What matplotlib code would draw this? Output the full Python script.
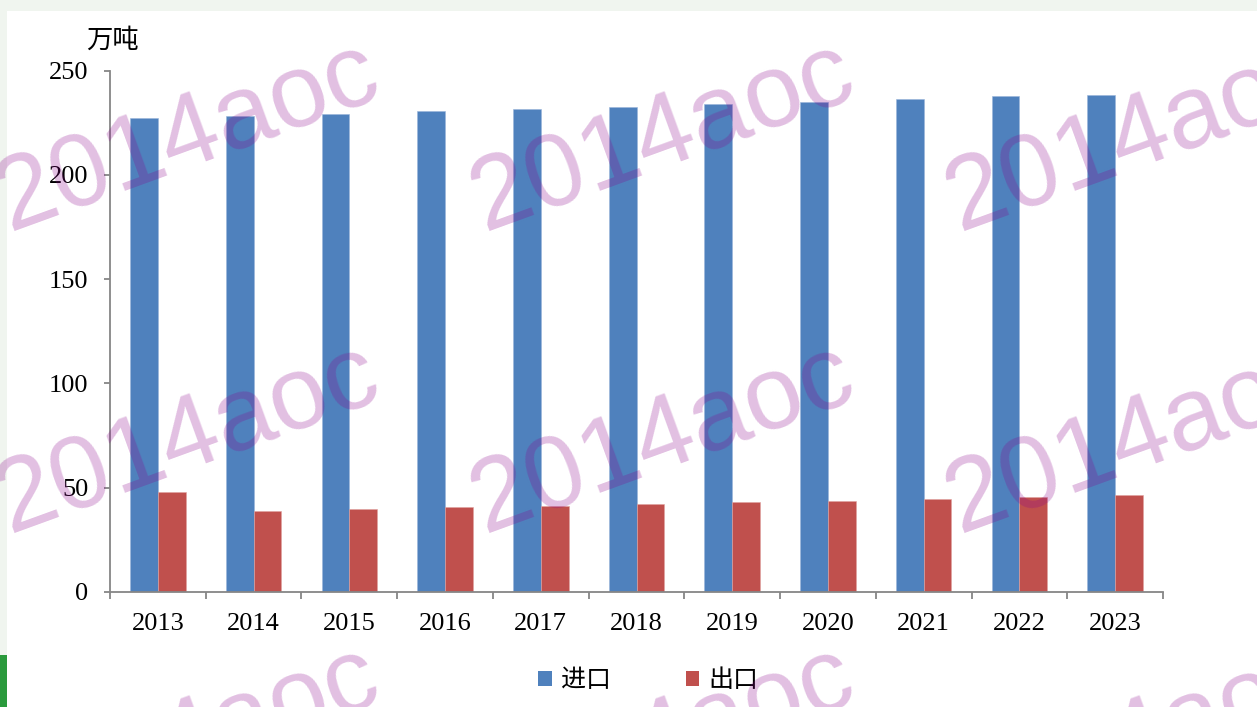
import matplotlib
matplotlib.use("Agg")
import matplotlib.pyplot as plt
from matplotlib.patches import Rectangle, Patch
import numpy as np

# ---- data ----
years = ["2013", "2014", "2015", "2016", "2017", "2018", "2019", "2020", "2021", "2022", "2023"]
imports = [227.1, 228.1, 229.4, 230.7, 231.8, 232.7, 234.0, 235.1, 236.6, 237.9, 238.5]
exports = [47.8, 38.5, 39.7, 40.5, 41.3, 42.1, 43.0, 43.7, 44.5, 45.6, 46.4]
series_names = ["进口", "出口"]
unit_label = "万吨"
yticks = [0, 50, 100, 150, 200, 250]
watermark = "2014aoc"

W, H = 1257, 707
fig = plt.figure(figsize=(W / 100, H / 100), dpi=100)
fig.patch.set_facecolor("#f0f5ef")

# white page area and green corner strip
fig.patches.append(Rectangle((7 / W, 0), 1 - 7 / W, (H - 10.5) / H,
                             transform=fig.transFigure, facecolor="white",
                             edgecolor="none", zorder=-5))
fig.patches.append(Rectangle((0, 0), 7 / W, 52 / H, transform=fig.transFigure,
                             facecolor="#2a9a3c", edgecolor="none", zorder=-5))

serif = ["Liberation Serif", "Noto Sans CJK SC"]
cjk = ["Noto Sans CJK SC", "DejaVu Sans"]

ax = fig.add_axes([110 / W, 115.3 / H, (1163 - 110) / W, 521 / H])
ax.set_facecolor("none")

x = np.arange(len(years))
bw = 0.29
blue = "#4f81bd"
red = "#c0504d"
ax.bar(x - bw / 2, imports, width=bw, color=blue, edgecolor="#9ab5da", linewidth=0.4)
ax.bar(x + bw / 2, exports, width=bw, color=red, edgecolor="#e0a3a1", linewidth=0.4)

ax.set_xlim(-0.5, len(years) - 0.5)
ax.set_ylim(0, 250)

for s in ["top", "right"]:
    ax.spines[s].set_visible(False)
for s in ["left", "bottom"]:
    ax.spines[s].set_color("#868686")
    ax.spines[s].set_linewidth(1.3)

ax.set_yticks(yticks)
ax.set_yticklabels([str(v) for v in yticks], fontsize=19, family=serif)
ax.tick_params(axis="y", length=4.5, width=1.3, color="#868686", pad=11)

ax.set_xticks(x)
ax.set_xticklabels(years, fontsize=19, family=serif)
ax.tick_params(axis="x", which="major", length=0, pad=15.5)
ax.set_xticks(np.arange(-0.5, len(years)), minor=True)
ax.tick_params(axis="x", which="minor", length=5, width=1.3, color="#868686")

fig.text(112 / W, 1 - 40 / H, unit_label, ha="center", va="center",
         fontsize=19, family=cjk)

handles = [Patch(facecolor=blue, edgecolor="none"), Patch(facecolor=red, edgecolor="none")]
fig.legend(handles, series_names, loc="center", bbox_to_anchor=(648 / W, 1 - 680 / H),
           ncol=2, frameon=False, prop={"family": cjk, "size": 18},
           handlelength=0.55, handleheight=0.55, handletextpad=0.35,
           columnspacing=3.0)

# watermarks
xs = [188, 663, 1138]
ys = [138, 440, 742]
for yy in ys:
    for xx in xs:
        fig.text(xx / W, 1 - yy / H, watermark, rotation=20, ha="center", va="center",
                 fontsize=75, family="Liberation Sans", color="#8b008b", alpha=0.25,
                 zorder=10)

fig.savefig("out.png", dpi=100)
